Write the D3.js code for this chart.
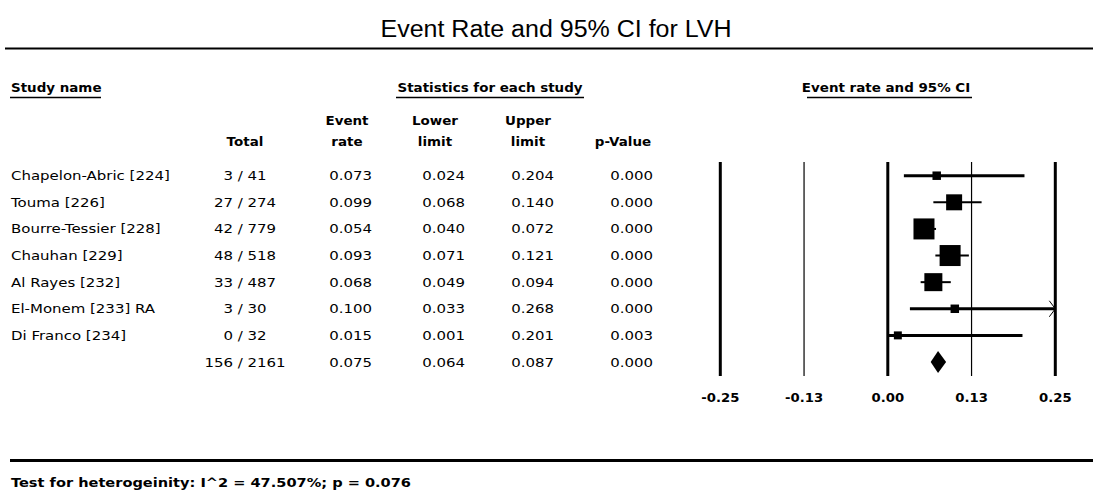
<!DOCTYPE html>
<html>
<head>
<meta charset="utf-8">
<script src="https://cdn.jsdelivr.net/npm/d3@7"></script>
<style>
  html, body { margin: 0; padding: 0; background: #fff; }
  svg { display: block; }
  text { fill: #000; }
</style>
</head>
<body>
<svg id="chart" width="1093" height="492"></svg>
<script>
// Study-level data
const studyNames = [
  "Chapelon-Abric [224]", "Touma [226]", "Bourre-Tessier [228]", "Chauhan [229]",
  "Al Rayes [232]", "El-Monem [233] RA", "Di Franco [234]"
];
const events    = [3, 27, 42, 48, 33, 3, 0];
const totals    = [41, 274, 779, 518, 487, 30, 32];
const eventRate = [0.073, 0.099, 0.054, 0.093, 0.068, 0.100, 0.015];
const lowerCI   = [0.024, 0.068, 0.040, 0.071, 0.049, 0.033, 0.001];
const upperCI   = [0.204, 0.140, 0.072, 0.121, 0.094, 0.268, 0.201];
const pValues   = [0.000, 0.000, 0.000, 0.000, 0.000, 0.000, 0.003];
const relWeight = [4.3, 15.3, 26.4, 26.4, 19.4, 4.3, 3.8];

// Pooled estimate
const pooledEvents = 156, pooledTotal = 2161;
const pooledRate = 0.075, pooledLower = 0.064, pooledUpper = 0.087, pooledP = 0.000;

// Heterogeneity
const iSquared = 47.507, pHeterogeneity = 0.076;

// Axis
const axisTicks = [-0.25, -0.125, 0, 0.125, 0.25];
const axisTickLabels = ["-0.25", "-0.13", "0.00", "0.13", "0.25"];
const thickTicks = [-0.25, 0, 0.25];

const svg = d3.select("#chart");
const FONT = "'DejaVu Sans', Verdana, sans-serif";
const fmt3 = d3.format(".3f");

// widen text horizontally by factor k
function widen(sel, k) {
  sel.each(function () {
    const len = this.getComputedTextLength();
    d3.select(this).attr("textLength", len * k).attr("lengthAdjust", "spacingAndGlyphs");
  });
  return sel;
}
function label(x, y, str, opts = {}) {
  const t = svg.append("text")
    .attr("x", x).attr("y", y)
    .attr("font-family", opts.family || FONT)
    .attr("font-size", opts.size || 13)
    .attr("font-weight", opts.bold ? "bold" : "normal")
    .attr("text-anchor", opts.anchor || "start")
    .text(str);
  widen(t, opts.k || (opts.bold ? 1.12 : 1.15));
  return t;
}

// Title
const title = svg.append("text")
  .attr("x", 556).attr("y", 37)
  .attr("text-anchor", "middle")
  .attr("font-family", "'Liberation Sans', Arial, sans-serif")
  .attr("font-size", 23.5)
  .text("Event Rate and 95% CI for LVH");
title.attr("textLength", 351).attr("lengthAdjust", "spacingAndGlyphs");

svg.append("line").attr("x1", 5).attr("x2", 1093).attr("y1", 48.5).attr("y2", 48.5)
  .attr("stroke", "#000").attr("stroke-width", 2);

// Section headers with underlines
const sectionHeaders = [
  { text: "Study name", x: 11, anchor: "start", ux1: 10, ux2: 101 },
  { text: "Statistics for each study", x: 490, anchor: "middle", ux1: 396, ux2: 584 },
  { text: "Event rate and 95% CI", x: 886, anchor: "middle", ux1: 807, ux2: 972 }
];
sectionHeaders.forEach(h => {
  label(h.x, 92, h.text, { bold: true, size: 12, anchor: h.anchor });
  svg.append("line").attr("x1", h.ux1).attr("x2", h.ux2).attr("y1", 97.5).attr("y2", 97.5)
    .attr("stroke", "#000").attr("stroke-width", 1.5);
});

// Column headers
const colHeaders = [
  { lines: ["Total"], x: 245 },
  { lines: ["Event", "rate"], x: 347 },
  { lines: ["Lower", "limit"], x: 435 },
  { lines: ["Upper", "limit"], x: 528 },
  { lines: ["p-Value"], x: 623 }
];
colHeaders.forEach(c => {
  const n = c.lines.length;
  c.lines.forEach((s, i) => {
    label(c.x, 146 - (n - 1 - i) * 21, s, { bold: true, size: 12, anchor: "middle" });
  });
});

// Row positions
const nRows = studyNames.length + 1;
const y = d3.scalePoint().domain(d3.range(nRows)).range([175.7, 362]);

// Table body
studyNames.forEach((name, i) => {
  const yy = y(i) + 4.5;
  label(11, yy, name);
  label(245, yy, `${events[i]} / ${totals[i]}`, { anchor: "middle" });
  label(372, yy, fmt3(eventRate[i]), { anchor: "end" });
  label(465, yy, fmt3(lowerCI[i]), { anchor: "end" });
  label(554, yy, fmt3(upperCI[i]), { anchor: "end" });
  label(653, yy, fmt3(pValues[i]), { anchor: "end" });
});
{
  const yy = y(nRows - 1) + 4.5;
  label(245, yy, `${pooledEvents} / ${pooledTotal}`, { anchor: "middle" });
  label(372, yy, fmt3(pooledRate), { anchor: "end" });
  label(465, yy, fmt3(pooledLower), { anchor: "end" });
  label(554, yy, fmt3(pooledUpper), { anchor: "end" });
  label(653, yy, fmt3(pooledP), { anchor: "end" });
}

// Forest plot
const x = d3.scaleLinear().domain([-0.25, 0.25]).range([720.3, 1055.3]);
const plotTop = 162, plotBottom = 376;

const g = svg.append("g");
g.selectAll("line.ref").data(axisTicks).join("line")
  .attr("class", "ref")
  .attr("x1", d => x(d)).attr("x2", d => x(d))
  .attr("y1", plotTop).attr("y2", plotBottom)
  .attr("stroke", "#000")
  .attr("stroke-width", d => thickTicks.includes(d) ? 3 : 1.2);

// Tick labels
axisTicks.forEach((d, i) => {
  label(x(d), 402, axisTickLabels[i], { bold: true, size: 12, anchor: "middle", k: 1.1 });
});

// Confidence intervals, clipped to the axis range
const [dMin, dMax] = x.domain();
const sq = d3.scaleSqrt().domain([0, d3.max(relWeight)]).range([0, 21]);
studyNames.forEach((name, i) => {
  const lo = Math.max(lowerCI[i], dMin), hi = Math.min(upperCI[i], dMax);
  const yy = y(i);
  g.append("line")
    .attr("x1", x(lo)).attr("x2", x(hi)).attr("y1", yy).attr("y2", yy)
    .attr("stroke", "#000").attr("stroke-width", relWeight[i] < 10 ? 3 : 2);
  if (upperCI[i] > dMax) {
    g.append("path")
      .attr("d", `M${x(dMax) - 6},${yy - 8} L${x(dMax)},${yy} L${x(dMax) - 6},${yy + 8}`)
      .attr("fill", "none").attr("stroke", "#000").attr("stroke-width", 1);
  }
  const s = sq(relWeight[i]);
  g.append("rect")
    .attr("x", x(eventRate[i]) - s / 2).attr("y", yy - s / 2)
    .attr("width", s).attr("height", s)
    .attr("fill", "#000");
});

// Pooled diamond
{
  const yy = y(nRows - 1), h = 11;
  g.append("path")
    .attr("d", `M${x(pooledLower)},${yy} L${x(pooledRate)},${yy - h} L${x(pooledUpper)},${yy} L${x(pooledRate)},${yy + h} Z`)
    .attr("fill", "#000");
}

// Footer
svg.append("line").attr("x1", 10).attr("x2", 1093).attr("y1", 460.5).attr("y2", 460.5)
  .attr("stroke", "#000").attr("stroke-width", 3);
label(11, 487, `Test for heterogeinity: I^2 = ${iSquared.toFixed(3)}%; p = ${pHeterogeneity.toFixed(3)}`,
  { bold: true, size: 13, k: 1.12 });
</script>
</body>
</html>
